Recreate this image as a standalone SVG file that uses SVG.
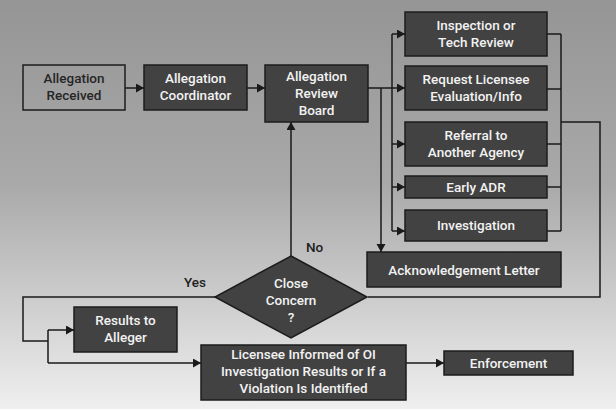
<svg xmlns="http://www.w3.org/2000/svg" width="616" height="409" viewBox="0 0 616 409">
<defs>
<linearGradient id="bg" x1="0" y1="0" x2="0" y2="1">
<stop offset="0" stop-color="#959595"/>
<stop offset="0.45" stop-color="#a9a9a9"/>
<stop offset="1" stop-color="#efefef"/>
</linearGradient>
<marker id="arr" markerUnits="userSpaceOnUse" markerWidth="9" markerHeight="10" refX="8" refY="4.5" orient="auto">
<path d="M0,0 L8,4.5 L0,9 z" fill="#1a1a1a"/>
</marker>
<style>
.box{fill:#424242;stroke:#1c1c1c;stroke-width:1.5}
.lbox{fill:none;stroke:#1c1c1c;stroke-width:1.5}
.t{font-family:Roboto,"Liberation Sans",sans-serif;font-size:13.5px;font-weight:500;fill:#f2f2f2;text-anchor:middle}
.d{fill:#262626}
.lbl{font-family:Roboto,"Liberation Sans",sans-serif;font-size:13.5px;font-weight:500;fill:#1e1e1e}
.c{fill:none;stroke:#1a1a1a;stroke-width:1.5}
.a{marker-end:url(#arr)}
</style>
</defs>
<rect x="0" y="0" width="616" height="409" fill="url(#bg)"/>
<g id="connectors">
<path class="c a" d="M125,88 H144"/>
<path class="c a" d="M247,88 H265"/>
<path class="c a" d="M368,88 H405"/>
<path class="c a" d="M381,88 V252"/>
<path class="c" d="M392,34 V231"/>
<path class="c a" d="M392,34 H405"/>
<path class="c a" d="M392,144 H405"/>
<path class="c a" d="M392,187 H405"/>
<path class="c a" d="M392,231 H405"/>
<path class="c" d="M547,34 H561 M547,89 H561 M547,144 H561 M547,187 H561 M547,231 H561 M561,34 V231"/>
<path class="c" d="M561,122 H600 V297 H368"/>
<path class="c a" d="M291,256 V122"/>
<path class="c" d="M215,297 H23 V341 H48 M48,330 V363"/>
<path class="c a" d="M48,330 H74"/>
<path class="c a" d="M48,363 H201"/>
<path class="c a" d="M406,363 H444"/>
</g>
<g id="allegation-received">
<rect class="lbox" x="23" y="65" width="102" height="45"/>
<text class="t d" x="74" y="83">Allegation</text>
<text class="t d" x="74" y="100">Received</text>
</g>
<g id="allegation-coordinator">
<rect class="box" x="144" y="65" width="103" height="45"/>
<text class="t" x="195.5" y="83">Allegation</text>
<text class="t" x="195.5" y="100">Coordinator</text>
</g>
<g id="allegation-review-board">
<rect class="box" x="265" y="65" width="103" height="57"/>
<text class="t" x="316.5" y="81">Allegation</text>
<text class="t" x="316.5" y="98">Review</text>
<text class="t" x="316.5" y="115">Board</text>
</g>
<g id="inspection">
<rect class="box" x="405" y="12" width="142" height="44"/>
<text class="t" x="476" y="30">Inspection or</text>
<text class="t" x="476" y="47">Tech Review</text>
</g>
<g id="request-licensee">
<rect class="box" x="405" y="66" width="142" height="44"/>
<text class="t" x="476" y="84">Request Licensee</text>
<text class="t" x="476" y="101">Evaluation/Info</text>
</g>
<g id="referral">
<rect class="box" x="405" y="122" width="142" height="44"/>
<text class="t" x="476" y="140">Referral to</text>
<text class="t" x="476" y="157">Another Agency</text>
</g>
<g id="early-adr">
<rect class="box" x="405" y="176" width="142" height="22"/>
<text class="t" x="476" y="192">Early ADR</text>
</g>
<g id="investigation">
<rect class="box" x="405" y="210" width="142" height="31"/>
<text class="t" x="476" y="230">Investigation</text>
</g>
<g id="acknowledgement-letter">
<rect class="box" x="367" y="252" width="194" height="35"/>
<text class="t" x="464" y="274.5">Acknowledgement Letter</text>
</g>
<g id="close-concern">
<polygon class="box" points="291,256 367,297 291,338 215,297"/>
<text class="t" x="291" y="288">Close</text>
<text class="t" x="291" y="305">Concern</text>
<text class="t" x="291" y="322">?</text>
</g>
<g id="labels">
<text class="lbl" x="306" y="252">No</text>
<text class="lbl" x="184" y="287">Yes</text>
</g>
<g id="results-to-alleger">
<rect class="box" x="74" y="307" width="103" height="45"/>
<text class="t" x="125.5" y="325">Results to</text>
<text class="t" x="125.5" y="342">Alleger</text>
</g>
<g id="licensee-informed">
<rect class="box" x="201" y="345" width="205" height="55"/>
<text class="t" x="303.5" y="359">Licensee Informed of OI</text>
<text class="t" x="303.5" y="376">Investigation Results or If a</text>
<text class="t" x="303.5" y="393">Violation Is Identified</text>
</g>
<g id="enforcement">
<rect class="box" x="444" y="351" width="129" height="24"/>
<text class="t" x="508.5" y="368">Enforcement</text>
</g>
</svg>
